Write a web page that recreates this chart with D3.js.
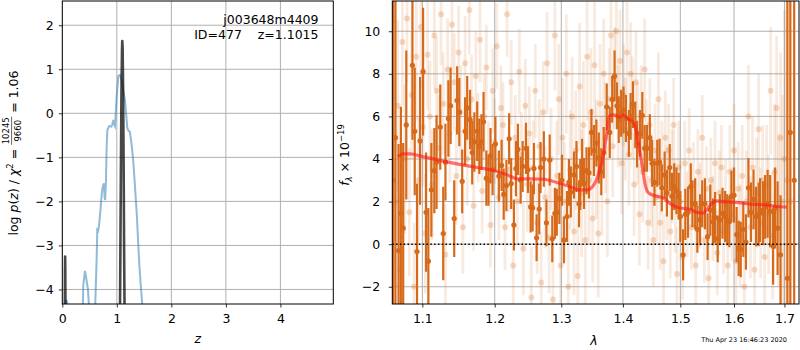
<!DOCTYPE html>
<html>
<head>
<meta charset="utf-8">
<script src="https://cdn.jsdelivr.net/npm/d3@7"></script>
<style>
    body { margin: 0; background: #fff; }
    svg { font-family: "DejaVu Sans", sans-serif; }
</style>
</head>
<body>
<svg id="chart" width="800" height="350"></svg>
<script>
// ---- p(z) panel ----
const pzTicksX = [0, 1, 2, 3, 4];
const pzTicksY = [-4, -3, -2, -1, 0, 1, 2];
// blue curve (null = gap)
const pzZ = [0.055, 0.078, 0.11, null,
    0.374, 0.385, 0.416, 0.44, 0.47, 0.496, null,
    0.60, 0.63, 0.642, 0.66, 0.673, 0.70, 0.724, 0.745, 0.765, 0.775,
    0.785, 0.80, 0.812, 0.826, 0.86, 0.90, 0.917, 0.936, 0.95, 0.966,
    0.98, 0.997, 1.028, 1.058, 1.08, 1.101, 1.125, 1.15, 1.17, 1.193,
    1.215, 1.24, 1.27, 1.30, 1.33, 1.365, 1.39, 1.415, 1.445, 1.475];
const pzLnp = [-4.4, -4.24, -4.4, null,
    -4.5, -3.9, -3.58, -3.75, -4.0, -4.5, null,
    -4.5, -3.3, -2.6, -2.65, -2.55, -2.2, -1.82, -1.65, -1.59, -1.9,
    -1.97, -1.58, -0.8, -0.38, -0.29, -0.3, -0.25, -0.15, -0.25, -0.29,
    0.0, 0.38, 0.85, 0.87, 0.78, 0.64, 0.45, 0.30, 0.0, -0.34,
    -0.4, -0.42, -0.7, -1.06, -1.6, -2.27, -2.9, -3.49, -4.0, -4.5];
// fine-grid chi2 spikes (black)
const spikeZ = [0.046, 0.049, 0.052, 0.055, 0.058, null,
    1.058, 1.066, 1.075, 1.085, 1.095, 1.100, 1.106, 1.115, 1.124, 1.134, 1.142];
const spikeLnp = [-4.5, -3.6, -3.25, -3.6, -4.5, null,
    -4.5, -3.0, -1.2, 0.5, 1.45, 1.64, 1.5, 0.6, -1.0, -3.2, -4.5];

// ---- spectrum panel ----
const specTicksX = [1.1, 1.2, 1.3, 1.4, 1.5, 1.6, 1.7];
const specTicksY = [-2, 0, 2, 4, 6, 8, 10];

const darkWave = [
    1.062, 1.065, 1.069, 1.072, 1.075, 1.079, 1.087, 1.090, 1.093, 1.097,
    1.101, 1.105, 1.108, 1.112, 1.116, 1.119, 1.124, 1.128, 1.131, 1.135,
    1.138, 1.143, 1.147, 1.150, 1.154, 1.158, 1.161, 1.165, 1.168, 1.171,
    1.175, 1.178, 1.181, 1.184, 1.188, 1.191, 1.194, 1.197, 1.201, 1.206,
    1.210, 1.213, 1.217, 1.221, 1.224, 1.228, 1.231, 1.234, 1.238, 1.241,
    1.246, 1.249, 1.253, 1.256, 1.258, 1.262, 1.266, 1.268, 1.273, 1.277,
    1.282, 1.286, 1.290, 1.293, 1.297, 1.301, 1.304, 1.309, 1.312, 1.315,
    1.320, 1.324, 1.328, 1.330, 1.333, 1.336, 1.340, 1.344, 1.348, 1.352,
    1.356, 1.360, 1.364, 1.368, 1.373, 1.378, 1.382, 1.386, 1.390, 1.393,
    1.397, 1.401, 1.405, 1.410, 1.413, 1.417, 1.421, 1.424, 1.429, 1.433,
    1.437, 1.441, 1.446, 1.450, 1.454, 1.459, 1.463, 1.467, 1.472, 1.476,
    1.481, 1.485, 1.489, 1.493, 1.497, 1.500, 1.505, 1.509, 1.514, 1.519,
    1.522, 1.527, 1.531, 1.536, 1.540, 1.545, 1.550, 1.555, 1.560, 1.564,
    1.569, 1.573, 1.578, 1.583, 1.587, 1.591, 1.595, 1.600, 1.605, 1.609,
    1.613, 1.618, 1.623, 1.628, 1.633, 1.638, 1.643, 1.648, 1.651, 1.657,
    1.661, 1.666, 1.671, 1.677, 1.681, 1.686, 1.692, 1.706, 1.712, 1.720];
const darkFlux = [
    3.0, 5.0, -0.3, 1.45, 0.75, 5.6, 8.4, 5.3, -0.35, 4.85,
    8.1, 1.5, -0.8, 2.55, 3.45, 3.85, 5.5, 0.5, 3.85, 5.9,
    6.5, 1.2, 6.75, 6.2, 2.95, 5.3, 6.4, 5.85, 4.3, 4.8,
    5.3, 4.6, 4.8, 5.75, 3.1, 3.0, 4.15, 3.5, 4.7, 3.2,
    3.7, 2.35, 2.75, 4.95, 2.85, 0.9, 3.55, 4.45, 3.0, 3.65,
    4.5, 3.5, 1.75, 1.7, 3.55, 0.3, 1.65, 3.6, 4.0, 1.0,
    3.95, 0.25, 1.45, 1.5, 2.15, 3.0, 0.2, 1.3, 2.9, 2.45,
    3.25, 3.65, 1.9, 2.8, 3.85, 2.85, 3.45, 3.35, 5.25, 4.4,
    4.75, 4.05, 3.4, 4.3, 6.45, 5.25, 6.8, 7.9, 6.5, 5.85,
    6.15, 6.3, 5.9, 5.2, 6.0, 6.55, 5.6, 4.7, 5.2, 6.05,
    4.5, 4.5, 5.0, 3.8, 2.9, 3.8, 3.85, 2.65, 3.25, 2.4,
    3.6, 2.25, 2.7, 2.5, 2.25, 1.3, -0.5, 1.4, 1.5, 2.7,
    1.9, 1.9, 0.7, 1.15, 1.9, 1.9, 0.35, 1.6, 1.05, 1.25,
    0.25, 1.15, 1.45, 1.3, 1.15, 1.05, 2.25, 2.3, 0.45, -0.2,
    -0.25, 0.7, 0.1, 2.65, 1.5, 2.1, 1.3, 1.4, 1.6, 1.45,
    1.75, 1.9, 1.55, -0.1, 1.7, 0.75, -0.5, -1.6, 5.25, 3.0];
const darkErr = [
    16, 16, 5.0, 5.0, 4.0, 3.5, 3.5, 3.0, 3.2, 3.0,
    3.0, 2.8, 2.5, 2.2, 2.0, 2.2, 2.0, 2.2, 1.8, 1.8,
    1.8, 1.8, 1.6, 1.6, 1.5, 1.6, 1.5, 1.4, 1.5, 1.4,
    1.4, 1.3, 1.3, 1.4, 1.3, 1.2, 1.3, 1.2, 1.3, 1.2,
    1.2, 1.2, 1.2, 1.2, 1.2, 1.2, 1.3, 1.2, 1.1, 1.2,
    1.2, 1.1, 1.2, 1.1, 1.2, 1.1, 1.2, 1.2, 1.3, 1.1,
    1.2, 1.1, 1.2, 1.1, 1.2, 1.2, 1.1, 1.2, 1.1, 1.2,
    1.1, 1.2, 1.1, 1.2, 1.1, 1.2, 1.1, 1.2, 1.1, 1.2,
    1.1, 1.2, 1.1, 1.2, 1.1, 1.2, 1.1, 1.2, 1.1, 1.1,
    1.1, 1.1, 1.1, 1.1, 1.1, 1.1, 1.1, 1.1, 1.1, 1.1,
    1.1, 1.1, 1.1, 1.1, 1.1, 1.1, 1.1, 1.1, 1.1, 1.1,
    1.1, 1.1, 1.1, 1.1, 1.1, 1.2, 1.2, 1.2, 1.2, 1.1,
    1.1, 1.2, 1.1, 1.2, 1.1, 1.2, 1.1, 1.2, 1.1, 1.2,
    1.1, 1.2, 1.2, 1.2, 1.2, 1.2, 1.2, 1.3, 1.3, 1.3,
    1.3, 1.3, 1.3, 1.4, 1.4, 1.4, 1.4, 1.5, 1.5, 1.5,
    1.5, 1.6, 1.7, 1.8, 1.9, 2.2, 2.8, 14, 14, 16];

const faintWave = [
    1.064, 1.068, 1.071, 1.074, 1.077, 1.080, 1.083, 1.086, 1.089, 1.092,
    1.095, 1.098, 1.101, 1.104, 1.107, 1.110, 1.113, 1.116, 1.119, 1.122,
    1.125, 1.128, 1.131, 1.134, 1.137, 1.140, 1.143, 1.146, 1.149, 1.152,
    1.155, 1.158, 1.161, 1.164, 1.167, 1.170, 1.173, 1.176, 1.179, 1.182,
    1.185, 1.188, 1.191, 1.194, 1.197, 1.200, 1.203, 1.206, 1.209, 1.212,
    1.215, 1.218, 1.221, 1.224, 1.227, 1.230, 1.233, 1.236, 1.239, 1.242,
    1.245, 1.248, 1.251, 1.254, 1.257, 1.260, 1.263, 1.266, 1.269, 1.272,
    1.275, 1.278, 1.281, 1.284, 1.287, 1.290, 1.293, 1.296, 1.299, 1.302,
    1.305, 1.308, 1.311, 1.314, 1.317, 1.320, 1.323, 1.326, 1.329, 1.332,
    1.335, 1.338, 1.341, 1.344, 1.347, 1.350, 1.353, 1.356, 1.359, 1.362,
    1.365, 1.368, 1.371, 1.374, 1.377, 1.380, 1.383, 1.386, 1.389, 1.392,
    1.395, 1.398, 1.401, 1.404, 1.407, 1.410, 1.413, 1.416, 1.419, 1.422,
    1.425, 1.428, 1.431, 1.434, 1.437, 1.440, 1.443, 1.446, 1.449, 1.452,
    1.455, 1.458, 1.461, 1.464, 1.467, 1.470, 1.473, 1.476, 1.479, 1.482,
    1.485, 1.488, 1.491, 1.494, 1.497, 1.500, 1.504, 1.508, 1.512, 1.516,
    1.520, 1.524, 1.528, 1.532, 1.536, 1.540, 1.544, 1.548, 1.552, 1.556,
    1.560, 1.564, 1.568, 1.572, 1.576, 1.580, 1.584, 1.588, 1.592, 1.596,
    1.600, 1.604, 1.608, 1.612, 1.616, 1.620, 1.624, 1.628, 1.632, 1.636,
    1.640, 1.644, 1.648, 1.652, 1.656, 1.660, 1.664, 1.668, 1.672, 1.676,
    1.680, 1.684, 1.688, 1.692, 1.696, 1.700, 1.705, 1.712];
const faintFlux = [
    2.0, 6.5, -1.2, 9.5, 4.0, 10.6, 1.5, 7.0, -2.0, 8.8,
    3.0, 10.2, 5.5, 0.5, 8.9, 6.0, 2.8, 9.8, 7.2, 4.5,
    10.8, 6.6, -0.5, 8.2, 5.2, 10.3, 7.6, 3.2, 9.0, 6.2,
    0.8, 8.5, 4.0, 11.0, 6.8, 1.8, 7.9, 5.0, 9.6, 2.5,
    6.0, 8.3, 3.8, 0.9, 7.2, 4.8, 9.3, 2.2, 6.4, 5.6,
    0.8, 10.8, 3.5, 7.6, -1.0, 5.0, 2.0, 8.1, 4.2, -0.2,
    6.5, 2.8, 5.2, -2.5, 3.6, 7.2, 1.0, 4.6, -1.8, 6.2,
    2.2, 8.5, 0.3, 4.0, -2.6, 9.8, 3.2, 6.8, -1.0, 5.0,
    2.0, 8.0, -2.0, 3.5, 6.0, 0.6, 4.4, -1.5, 7.4, 2.4,
    5.6, 0.2, 8.8, 3.0, 6.2, 1.2, 8.4, 4.0, 0.5, 6.6,
    3.2, 8.0, 5.0, 2.0, 6.8, 9.8, 4.6, 7.8, 10.0, 6.0,
    8.6, 3.8, 7.0, 5.4, 9.0, 4.2, 8.0, 6.4, 2.8, 7.6,
    5.2, 1.4, 6.0, 3.4, 8.2, 4.6, 1.0, 5.6, 3.0, 0.2,
    4.4, 2.2, 6.8, 1.0, 3.6, -0.8, 5.0, 2.4, 4.4, 0.6,
    3.2, 5.6, 1.8, -1.4, 3.6, 2.0, -0.6, 3.8, 1.4, 4.4,
    0.8, 2.8, -1.0, 3.4, 1.8, 5.0, 0.2, 2.6, -1.6, 3.0,
    1.2, 3.8, -0.4, 2.4, 3.6, 0.6, 2.0, -1.0, 3.4, 1.4,
    4.4, -0.8, 2.6, 0.4, 3.2, -2.0, 2.0, 6.0, 0.8, 3.6,
    -1.2, 2.4, 5.4, 1.0, 3.0, -0.6, 2.8, 1.4, 7.2, 0.4,
    3.4, 6.4, 1.6, 5.0, 2.0, 4.0, 3.0, 2.0];
const faintErr = [
    4, 4, 3.5, 3, 3.5, 3, 3, 3, 3, 3,
    3, 2.8, 2.8, 2.8, 2.6, 2.6, 2.6, 2.5, 2.5, 2.5,
    2.4, 2.4, 2.4, 2.4, 2.3, 2.3, 2.3, 2.3, 2.2, 2.2,
    2.2, 2.2, 2.2, 2.1, 2.1, 2.1, 2.1, 2.1, 2.0, 2.0,
    2, 2, 2, 2, 2, 2, 2, 2, 2, 2,
    2, 2, 2, 2, 2, 2, 2, 2, 2, 2.2,
    2.2, 2.2, 2.2, 2.4, 2.2, 2.2, 2.4, 2.2, 2.4, 2.4,
    2.4, 2.4, 2.6, 2.4, 2.6, 2.6, 2.6, 2.6, 2.8, 2.8,
    2.8, 2.8, 3, 2.8, 2.8, 3, 2.8, 3, 3, 3,
    3, 3, 3, 3, 3, 3, 3, 2.8, 3, 2.8,
    2.8, 2.6, 2.6, 2.6, 2.4, 2.4, 2.4, 2.4, 2.4, 2.4,
    2.4, 2.4, 2.4, 2.4, 2.4, 2.4, 2.4, 2.4, 2.4, 2.4,
    2.4, 2.4, 2.4, 2.4, 2.4, 2.2, 2.2, 2.2, 2.2, 2.2,
    2.2, 2.2, 2.2, 2.2, 2.2, 2.2, 2.2, 2.2, 2.2, 2.2,
    2.2, 2.2, 2.2, 2.2, 2.2, 2, 2, 2, 2, 2,
    2, 2, 2, 2, 2, 2, 2, 2, 2, 2,
    2, 2, 2, 2, 2, 2, 2, 2.2, 2.2, 2.2,
    2.2, 2.2, 2.2, 2.4, 2.4, 2.4, 2.4, 2.4, 2.4, 2.4,
    2.6, 2.6, 2.6, 2.6, 2.6, 2.8, 2.8, 2.8, 3, 3,
    3.2, 3.4, 3.6, 4, 5, 7, 10, 14];

// best-fit model
const modelWave = [1.068, 1.075, 1.084, 1.100, 1.120, 1.147, 1.175, 1.198, 1.218, 1.233,
    1.253, 1.273, 1.293, 1.314, 1.328, 1.341, 1.352, 1.360, 1.368, 1.373,
    1.377, 1.384, 1.396, 1.401, 1.409, 1.416, 1.421, 1.427, 1.433, 1.438,
    1.444, 1.455, 1.470, 1.481, 1.493, 1.502, 1.517, 1.530, 1.542, 1.548,
    1.558, 1.567, 1.579, 1.605, 1.631, 1.658, 1.685, 1.705];
const modelFlux = [4.12, 4.24, 4.24, 4.12, 3.96, 3.77, 3.60, 3.46, 3.26, 3.07,
    3.07, 3.05, 2.90, 2.70, 2.55, 2.55, 2.79, 3.33, 4.27, 5.21,
    6.00, 6.07, 5.96, 6.07, 5.87, 5.76, 5.52, 4.59, 3.65, 2.79,
    2.40, 2.27, 2.16, 1.92, 1.74, 1.69, 1.64, 1.49, 1.46, 1.61,
    1.92, 2.03, 2.00, 1.96, 1.88, 1.85, 1.77, 1.74];

const orange = "#d66a1a";
const svg = d3.select("#chart");
const fs = 12.5;

function styleAxis(g) {
    g.select(".domain").remove();
    g.selectAll(".tick line").attr("stroke", "#000").attr("stroke-width", 0.8);
    g.selectAll(".tick text")
        .attr("font-size", fs)
        .attr("font-family", "DejaVu Sans")
        .attr("fill", "#000");
}

function panel(box, id) {
    svg.append("clipPath").attr("id", id)
        .append("rect")
        .attr("x", box.x0).attr("y", box.y0)
        .attr("width", box.x1 - box.x0).attr("height", box.y1 - box.y0);
    return svg.append("g").attr("clip-path", `url(#${id})`);
}

function grid(g, box, x, y, tx, ty) {
    g.append("g").selectAll("line").data(tx).join("line")
        .attr("x1", (d) => x(d)).attr("x2", (d) => x(d))
        .attr("y1", box.y0).attr("y2", box.y1)
        .attr("stroke", "#b0b0b0").attr("stroke-width", 1);
    g.append("g").selectAll("line").data(ty).join("line")
        .attr("x1", box.x0).attr("x2", box.x1)
        .attr("y1", (d) => y(d)).attr("y2", (d) => y(d))
        .attr("stroke", "#b0b0b0").attr("stroke-width", 1);
}

function frame(box) {
    svg.append("rect")
        .attr("x", box.x0).attr("y", box.y0)
        .attr("width", box.x1 - box.x0).attr("height", box.y1 - box.y0)
        .attr("fill", "none").attr("stroke", "#000").attr("stroke-width", 1);
}

// ================= left: p(z) =================
const L = { x0: 62.3, x1: 333.3, y0: 1, y1: 304 };
const xz = d3.scaleLinear().domain([0, 4.97]).range([L.x0, L.x1]);
const yp = d3.scaleLinear().domain([-4.33, 2.55]).range([L.y1, L.y0]);

const gL = panel(L, "clipL");
grid(gL, L, xz, yp, pzTicksX, pzTicksY);

const lineP = d3.line()
    .defined((d) => d[0] !== null)
    .x((d) => xz(d[0]))
    .y((d) => yp(d[1]));

gL.append("path")
    .datum(pzZ.map((z, i) => [z, pzLnp[i]]))
    .attr("d", lineP)
    .attr("fill", "none")
    .attr("stroke", "#1f77b4")
    .attr("stroke-opacity", 0.5)
    .attr("stroke-width", 2);

gL.append("path")
    .datum(spikeZ.map((z, i) => [z, spikeLnp[i]]))
    .attr("d", lineP)
    .attr("fill", "none")
    .attr("stroke", "#000")
    .attr("stroke-opacity", 0.72)
    .attr("stroke-width", 2.6)
    .attr("stroke-linejoin", "round");

svg.append("g")
    .attr("transform", `translate(0,${L.y1})`)
    .call(d3.axisBottom(xz).tickValues(pzTicksX).tickFormat(d3.format("d"))
        .tickSize(3.5).tickPadding(7))
    .call(styleAxis);
svg.append("g")
    .attr("transform", `translate(${L.x0},0)`)
    .call(d3.axisLeft(yp).tickValues(pzTicksY).tickFormat(d3.format("d"))
        .tickSize(3.5).tickPadding(5))
    .call(styleAxis);
frame(L);

svg.append("text")
    .attr("x", 318.5).attr("y", 24)
    .attr("text-anchor", "end").attr("font-size", fs)
    .text("j003648m4409");
svg.append("text")
    .attr("x", 318.5).attr("y", 39)
    .attr("text-anchor", "end").attr("font-size", fs)
    .style("white-space", "pre")
    .text("ID=477    z=1.1015");

svg.append("text")
    .attr("x", (L.x0 + L.x1) / 2).attr("y", 343)
    .attr("text-anchor", "middle").attr("font-size", fs)
    .attr("font-style", "italic")
    .text("z");

// y label with stacked fraction
const yl = svg.append("g");
const part1 = yl.append("text").attr("x", 0).attr("y", 18).attr("font-size", fs)
    .style("white-space", "pre");
part1.append("tspan").text("log ");
part1.append("tspan").attr("font-style", "italic").text("p");
part1.append("tspan").text("(");
part1.append("tspan").attr("font-style", "italic").text("z");
part1.append("tspan").text(") / ");
part1.append("tspan").attr("font-style", "italic").text("χ");
part1.append("tspan").attr("font-size", 8.5).attr("dy", -5).text("2");
part1.append("tspan").attr("dy", 5).text(" = ");
const l1 = part1.node().getComputedTextLength();
const num = yl.append("text").attr("y", 9.3).attr("font-size", 8.5)
    .attr("text-anchor", "middle").text("10245");
const den = yl.append("text").attr("y", 21.3).attr("font-size", 8.5)
    .attr("text-anchor", "middle").text("9660");
const fw = Math.max(num.node().getComputedTextLength(), den.node().getComputedTextLength()) + 1;
num.attr("x", l1 + fw / 2);
den.attr("x", l1 + fw / 2);
yl.append("line")
    .attr("x1", l1).attr("x2", l1 + fw)
    .attr("y1", 11.6).attr("y2", 11.6)
    .attr("stroke", "#000").attr("stroke-width", 0.6);
const part3 = yl.append("text").attr("x", l1 + fw).attr("y", 18).attr("font-size", fs)
    .style("white-space", "pre").text(" = 1.06");
const total = l1 + fw + part3.node().getComputedTextLength();
yl.attr("transform", `translate(0,${153 + total / 2}) rotate(-90)`);

// ================= right: spectrum =================
const R = { x0: 392.3, x1: 799, y0: 1, y1: 304 };
const xw = d3.scaleLog().domain([1.061, 1.730]).range([R.x0, R.x1]);
const yf = d3.scaleLinear().domain([-2.81, 11.42]).range([R.y1, R.y0]);

const gR = panel(R, "clipR");
grid(gR, R, xw, yf, specTicksX, specTicksY);

function errorbars(g, wave, flux, err, barW, barOp, r, dotOp) {
    const pts = wave.map((w, i) => ({ w, f: flux[i], e: err[i] }));
    g.append("g").selectAll("line").data(pts).join("line")
        .attr("x1", (d) => xw(d.w)).attr("x2", (d) => xw(d.w))
        .attr("y1", (d) => yf(d.f - d.e)).attr("y2", (d) => yf(d.f + d.e))
        .attr("stroke", orange).attr("stroke-opacity", barOp)
        .attr("stroke-width", barW);
    g.append("g").selectAll("circle").data(pts).join("circle")
        .attr("cx", (d) => xw(d.w)).attr("cy", (d) => yf(d.f))
        .attr("r", r)
        .attr("fill", orange).attr("fill-opacity", dotOp);
}

errorbars(gR, faintWave, faintFlux, faintErr, 2.8, 0.14, 3, 0.24);
errorbars(gR, darkWave, darkFlux, darkErr, 2.2, 1, 2.6, 1);

gR.append("path")
    .datum(modelWave.map((w, i) => [w, modelFlux[i]]))
    .attr("d", d3.line().curve(d3.curveMonotoneX)
        .x((d) => xw(d[0])).y((d) => yf(d[1])))
    .attr("fill", "none")
    .attr("stroke", "#ff1a1a")
    .attr("stroke-opacity", 0.62)
    .attr("stroke-width", 3.2);

gR.append("line")
    .attr("x1", R.x0).attr("x2", R.x1)
    .attr("y1", yf(0)).attr("y2", yf(0))
    .attr("stroke", "#000").attr("stroke-width", 1.5)
    .attr("stroke-dasharray", "1.5,2.3");

svg.append("g")
    .attr("transform", `translate(0,${R.y1})`)
    .call(d3.axisBottom(xw).tickValues(specTicksX).tickFormat(d3.format(".1f"))
        .tickSize(3.5).tickPadding(7))
    .call(styleAxis);
svg.append("g")
    .attr("transform", `translate(${R.x0},0)`)
    .call(d3.axisLeft(yf).tickValues(specTicksY).tickFormat(d3.format("d"))
        .tickSize(3.5).tickPadding(8.5))
    .call(styleAxis);
frame(R);

svg.append("text")
    .attr("x", 594).attr("y", 345)
    .attr("text-anchor", "middle").attr("font-size", fs)
    .attr("font-style", "italic")
    .text("λ");

const yr = svg.append("text")
    .attr("transform", "translate(349,155) rotate(-90)")
    .attr("text-anchor", "middle").attr("font-size", fs);
yr.append("tspan").attr("font-style", "italic").text("f");
yr.append("tspan").attr("font-style", "italic").attr("font-size", 8.5).attr("dy", 2.5).text("λ");
yr.append("tspan").attr("dy", -2.5).style("white-space", "pre").text(" × 10");
yr.append("tspan").attr("font-size", 8.5).attr("dy", -5).text("−19");

svg.append("text")
    .attr("x", 787).attr("y", 342)
    .attr("text-anchor", "end").attr("font-size", 6.5)
    .text("Thu Apr 23 16:46:23 2020");
</script>
</body>
</html>
